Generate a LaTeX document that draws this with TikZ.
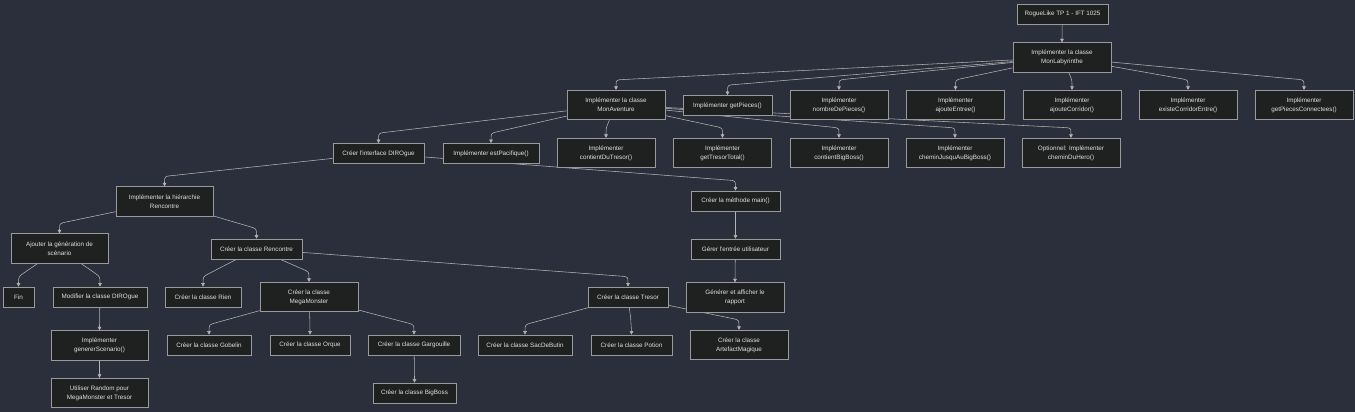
\documentclass[tikz,border=0pt]{standalone}
\usepackage{fontspec}
\setmainfont{Liberation Sans}
\usetikzlibrary{calc,arrows.meta}
\definecolor{bgc}{HTML}{2B2F3B}
\definecolor{boxc}{HTML}{1F2020}
\definecolor{bordc}{HTML}{9A9A9A}
\definecolor{txtc}{HTML}{E0E0E0}
\definecolor{linec}{HTML}{B4B4B4}
\pgfdeclarelayer{back}
\pgfdeclarelayer{edges}
\pgfsetlayers{back,edges,main}
\tikzset{
 box/.style={draw=bordc, fill=boxc, line width=0.7pt, text=txtc, font=\fontsize{6.3}{9}\selectfont, align=center, inner sep=0pt, minimum height=20pt},
 tall/.style={minimum height=29.5pt},
 bw/.style={minimum width=#1pt},
 flow/.style={draw=linec, line width=0.55pt, -{Triangle[length=3.5pt,width=3.5pt]},
   to path={-- ($([yshift=10pt]\tikztotarget.north)!7pt!(\tikztostart)$) .. controls ([yshift=10pt]\tikztotarget.north) .. (\tikztotarget.north)}}
}
\begin{document}
\begin{tikzpicture}[x=1pt,y=-1pt]
\begin{pgfonlayer}{back}
\fill[bgc] (0,0) rectangle (1355,412);
\end{pgfonlayer}
\useasboundingbox (0,0) rectangle (1355,412);
\node[box,bw=91] (rl) at (1062.5,14) {RogueLike TP 1 - IFT 1025};
\node[box,tall,bw=98] (lab) at (1062,57.5) {Implémenter la classe\\MonLabyrinthe};
\node[box,tall,bw=98] (av) at (616,105) {Implémenter la classe\\MonAventure};
\node[box,bw=89] (gp) at (727.5,105.5) {Implémenter getPieces()};
\node[box,tall,bw=98] (nb) at (839,105) {Implémenter\\nombreDePieces()};
\node[box,tall,bw=98] (ae) at (955.5,105) {Implémenter\\ajouteEntree()};
\node[box,tall,bw=98] (ac) at (1072,105) {Implémenter\\ajouteCorridor()};
\node[box,tall,bw=98] (ec) at (1188,105) {Implémenter\\existeCorridorEntre()};
\node[box,tall,bw=98] (gpc) at (1304,105) {Implémenter\\getPiecesConnectees()};
\node[box,bw=91] (dir) at (378.5,153.5) {Créer l\textquotesingle interface DIROgue};
\node[box,bw=96] (ep) at (491,153.5) {Implémenter estPacifique()};
\node[box,tall,bw=98] (cdt) at (606,153) {Implémenter\\contientDuTresor()};
\node[box,tall,bw=98] (gtt) at (722.5,153) {Implémenter\\getTresorTotal()};
\node[box,tall,bw=98] (cbb) at (839,153) {Implémenter\\contientBigBoss()};
\node[box,tall,bw=98] (cjb) at (955,153) {Implémenter\\cheminJusquAuBigBoss()};
\node[box,tall,bw=98] (opt) at (1071,153) {Optionnel: Implémenter\\cheminDuHero()};
\node[box,tall,bw=97] (hier) at (164.5,201.5) {Implémenter la hiérarchie\\Rencontre};
\node[box,bw=89] (main) at (735.5,201) {Créer la méthode main()};
\node[box,tall,bw=97] (gen) at (59.5,248.5) {Ajouter la génération de\\scénario};
\node[box,bw=91] (ren) at (256.5,249) {Créer la classe Rencontre};
\node[box,bw=89] (ger) at (735.5,249) {Gérer l\textquotesingle entrée utilisateur};
\node[box,bw=31] (fin) at (18.5,297) {Fin};
\node[box,bw=94] (mod) at (100,297) {Modifier la classe DIROgue};
\node[box,bw=76] (rien) at (203,297) {Créer la classe Rien};
\node[box,tall,bw=98] (mega) at (309,297) {Créer la classe\\MegaMonster};
\node[box,bw=80] (tre) at (628,297) {Créer la classe Tresor};
\node[box,tall,bw=98] (rap) at (735,297.5) {Générer et afficher le\\rapport};
\node[box,tall,bw=97] (gs) at (99.5,345.5) {Implémenter\\genererScenario()};
\node[box,bw=84] (gob) at (209,345) {Créer la classe Gobelin};
\node[box,bw=80] (orq) at (310,345) {Créer la classe Orque};
\node[box,bw=92] (garg) at (414,345) {Créer la classe Gargouille};
\node[box,bw=83] (bb) at (414.5,393) {Créer la classe BigBoss};
\node[box,bw=94] (sac) at (525,345) {Créer la classe SacDeButin};
\node[box,bw=81] (pot) at (631.5,345) {Créer la classe Potion};
\node[box,tall,bw=98] (art) at (739,345) {Créer la classe\\ArtefactMagique};
\node[box,tall,bw=97] (rnd) at (99.5,393) {Utiliser Random pour\\MegaMonster et Tresor};
\begin{pgfonlayer}{edges}
\foreach \a/\b in {rl/lab, lab/av, lab/gp, lab/nb, lab/ae, lab/ac, lab/ec, lab/gpc,
  av/dir, av/ep, av/cdt, av/gtt, av/cbb, av/cjb, av/opt,
  dir/hier, dir/main, hier/gen, hier/ren, gen/fin, gen/mod, mod/gs, gs/rnd,
  ren/rien, ren/mega, ren/tre, mega/gob, mega/orq, mega/garg, garg/bb,
  tre/sac, tre/pot, tre/art, main/ger, ger/rap}
  \draw[flow] (\a) to (\b);
\end{pgfonlayer}
\end{tikzpicture}
\end{document}
